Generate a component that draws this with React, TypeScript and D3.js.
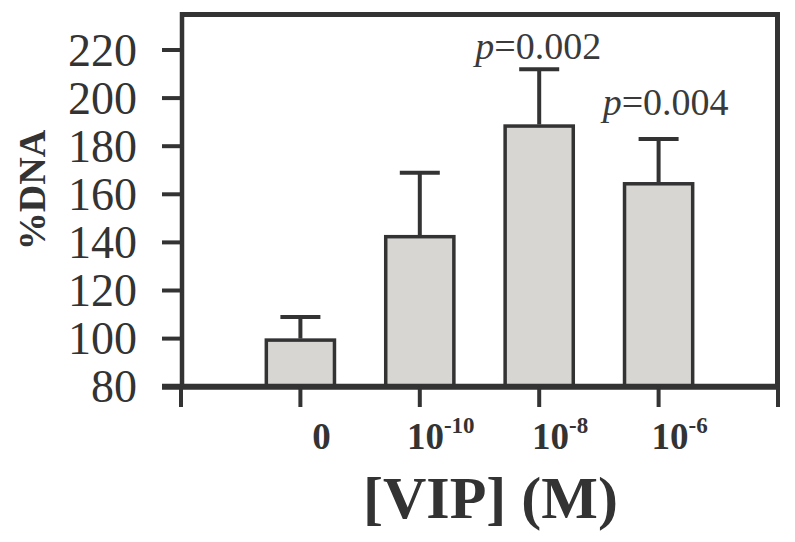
import React from "react";
import * as d3 from "d3";

const categories = ["0", "10", "10", "10"];
const exponents = ["", "-10", "-8", "-6"];
const means = [100, 143, 189, 165];
const errors = [9, 26, 23, 18];
const yTicks = [80, 100, 120, 140, 160, 180, 200, 220];
const annotations = [
  { index: 2, text: "=0.002" },
  { index: 3, text: "=0.004" },
];

const W = 795;
const H = 542;
const INK = "#333333";
const FONT = "'Liberation Serif', 'Times New Roman', serif";

export default function App() {
  const x = d3.scaleLinear().domain([0, 5]).range([181, 778]);
  const y = d3.scaleLinear().domain([80, 220]).range([386.7, 50]);
  const unit = x(1) - x(0);
  const barW = unit * 0.6 - 3.5;
  const capW = 40;
  const annOffsets = [10, 24];

  return (
    <svg
      width={W}
      height={H}
      style={{ position: "absolute", left: 0, top: 0, background: "#fff" }}
    >
      <rect x={0} y={0} width={W} height={H} fill="#fff" />
      {/* bars */}
      {means.map((m, i) => {
        const cx = x(i + 1);
        return (
          <g key={i}>
            <line
              x1={cx}
              x2={cx}
              y1={y(m)}
              y2={y(m + errors[i])}
              stroke={INK}
              strokeWidth={4}
            />
            <line
              x1={cx - capW / 2}
              x2={cx + capW / 2}
              y1={y(m + errors[i])}
              y2={y(m + errors[i])}
              stroke={INK}
              strokeWidth={4}
            />
            <rect
              x={cx - barW / 2}
              y={y(m) + 1.5}
              width={barW}
              height={y(80) - y(m) - 1.5}
              fill="#d7d6d3"
              stroke={INK}
              strokeWidth={3.5}
            />
          </g>
        );
      })}
      {/* frame */}
      <line x1={180} x2={780} y1={14.5} y2={14.5} stroke={INK} strokeWidth={5} />
      <line x1={182} x2={182} y1={12} y2={388} stroke={INK} strokeWidth={4.5} />
      <line x1={777.5} x2={777.5} y1={12} y2={388} stroke={INK} strokeWidth={5} />
      <line x1={162} x2={780} y1={y(80)} y2={y(80)} stroke={INK} strokeWidth={6} />
      {/* y ticks */}
      {yTicks.map((t) => (
        <g key={t}>
          <line x1={162} x2={182} y1={y(t)} y2={y(t)} stroke={INK} strokeWidth={4} />
          <text
            x={137}
            y={y(t)}
            dy="0.34em"
            textAnchor="end"
            fontFamily={FONT}
            fontSize={46}
            fill={INK}
          >
            {t}
          </text>
        </g>
      ))}
      {/* x ticks */}
      {d3.range(0, 6).map((i) => (
        <line
          key={i}
          x1={x(i)}
          x2={x(i)}
          y1={y(80)}
          y2={407}
          stroke={INK}
          strokeWidth={4}
        />
      ))}
      {categories.map((c, i) => (
        <text
          key={i}
          x={x(i + 1) + 21}
          y={449}
          textAnchor="middle"
          fontFamily={FONT}
          fontWeight="bold"
          fontSize={37}
          fill={INK}
        >
          {c}
          {exponents[i] && (
            <tspan fontSize={23} dy={-16}>
              {exponents[i]}
            </tspan>
          )}
        </text>
      ))}
      {/* annotations */}
      {annotations.map((a, k) => (
        <text
          key={k}
          x={x(a.index + 1) + (k === 0 ? -1 : 7)}
          y={y(means[a.index] + errors[a.index]) - annOffsets[k]}
          textAnchor="middle"
          fontFamily={FONT}
          fontSize={38}
          fill="#3a3a3a"
        >
          <tspan fontStyle="italic">p</tspan>
          {a.text}
        </text>
      ))}
      {/* axis titles */}
      <text
        x={x(2.5) + 11}
        y={518}
        textAnchor="middle"
        fontFamily={FONT}
        fontWeight="bold"
        fontSize={60}
        fill={INK}
      >
        [VIP] (M)
      </text>
      <text
        transform="translate(45,190) rotate(-90)"
        textAnchor="middle"
        fontFamily={FONT}
        fontWeight="bold"
        fontSize={38}
        fill={INK}
      >
        %DNA
      </text>
    </svg>
  );
}
